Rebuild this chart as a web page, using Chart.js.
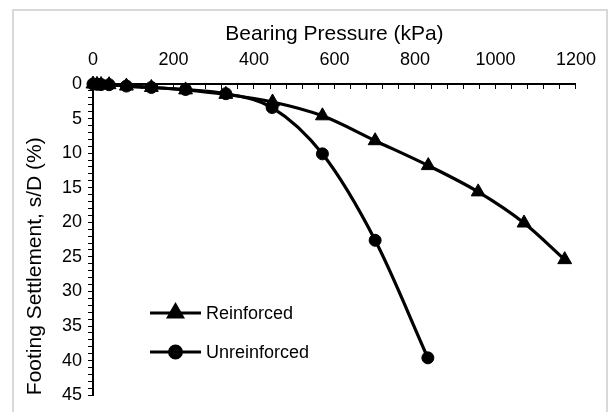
<!DOCTYPE html>
<html>
<head>
<meta charset="utf-8">
<script src="https://cdn.jsdelivr.net/npm/chart.js@4.4.1/dist/chart.umd.min.js"></script>
<style>
  html, body { margin: 0; padding: 0; background: #fff; }
  #wrap { position: relative; width: 614px; height: 412px; overflow: hidden; }
  #frame { position: absolute; left: 12px; top: 9px; width: 596px; height: 420px; border: 2px solid #d9d9d9; box-sizing: border-box; }
  #chart { position: absolute; left: 0; top: 0; }
</style>
</head>
<body>
<div id="wrap">
  <div id="frame"></div>
  <canvas id="chart" width="614" height="412"></canvas>
</div>
<script>
// bearing pressure (kPa) and settlement s/D (%)
const reinforcedX = [0, 10, 20, 40, 83, 145, 230, 330, 446, 570, 701, 833, 957, 1071, 1172];
const reinforcedY = [0, 0.05, 0.08, 0.1, 0.3, 0.5, 0.85, 1.5, 2.6, 4.6, 8.2, 11.8, 15.6, 20.1, 25.4];
const unreinforcedX = [0, 10, 20, 40, 83, 145, 230, 330, 445, 570, 701, 832];
const unreinforcedY = [0, 0.05, 0.08, 0.1, 0.3, 0.5, 0.8, 1.4, 3.4, 10.1, 22.6, 39.6];

const xTickLabels = [0, 200, 400, 600, 800, 1000, 1200];
const yTickLabels = [0, 5, 10, 15, 20, 25, 30, 35, 40, 45];

const FONT = "'Liberation Sans', Arial, sans-serif";
Chart.defaults.font.family = FONT;
Chart.defaults.color = "#000";

function toPoints(xs, ys) {
  return xs.map((x, i) => ({ x, y: ys[i] }));
}

// legend drawn inside the plot, lower left
const insideLegend = {
  id: "insideLegend",
  afterDatasetsDraw(chart) {
    const ctx = chart.ctx;
    const rows = [313, 352];
    chart.data.datasets.forEach((ds, i) => {
      const y = rows[i];
      ctx.save();
      ctx.strokeStyle = "#000";
      ctx.lineWidth = 3;
      ctx.beginPath();
      ctx.moveTo(150, y);
      ctx.lineTo(201, y);
      ctx.stroke();
      ctx.fillStyle = "#000";
      Chart.helpers.drawPoint(ctx, {
        pointStyle: ds.pointStyle,
        radius: ds.pointRadius,
        borderWidth: 1,
        rotation: 0,
      }, 175.5, y);
      ctx.fill();
      ctx.font = "18px " + FONT;
      ctx.textBaseline = "middle";
      ctx.textAlign = "left";
      ctx.fillText(ds.label, 206, y + 1);
      ctx.restore();
    });
  },
};

new Chart(document.getElementById("chart"), {
  type: "line",
  data: {
    datasets: [
      {
        label: "Reinforced",
        data: toPoints(reinforcedX, reinforcedY),
        borderColor: "#000",
        backgroundColor: "#000",
        borderWidth: 3.2,
        pointStyle: "triangle",
        pointRadius: 8,
        pointBorderWidth: 1,
        cubicInterpolationMode: "monotone",
        clip: false,
      },
      {
        label: "Unreinforced",
        data: toPoints(unreinforcedX, unreinforcedY),
        borderColor: "#000",
        backgroundColor: "#000",
        borderWidth: 3.2,
        pointStyle: "circle",
        pointRadius: 6,
        pointBorderWidth: 1,
        cubicInterpolationMode: "monotone",
        clip: false,
      },
    ],
  },
  options: {
    responsive: false,
    animation: false,
    layout: { padding: { left: 0, top: 0, right: 36, bottom: 7 } },
    plugins: { legend: { display: false }, tooltip: { enabled: false } },
    scales: {
      x: {
        type: "linear",
        position: "top",
        min: 0,
        max: 1200,
        afterFit: (s) => { s.height = 84; },
        ticks: {
          stepSize: 40,
          autoSkip: false,
          maxRotation: 0,
          padding: 18,
          font: { size: 18 },
          callback: (v) => (xTickLabels.includes(v) ? String(v) : ""),
        },
        grid: { drawOnChartArea: false, tickLength: -5, color: "#000", lineWidth: 1 },
        border: { color: "#000", width: 2 },
        title: {
          display: true,
          text: "Bearing Pressure (kPa)",
          font: { size: 21 },
          padding: { top: 22, bottom: 0 },
        },
      },
      y: {
        type: "linear",
        reverse: true,
        min: 0,
        max: 45,
        afterFit: (s) => { s.width = 93; },
        ticks: {
          stepSize: 1,
          autoSkip: false,
          padding: 6,
          font: { size: 18 },
          callback: (v) => (yTickLabels.includes(v) ? String(v) : ""),
        },
        grid: { drawOnChartArea: false, tickLength: 5, color: "#000", lineWidth: 1 },
        border: { color: "#000", width: 2 },
      },
      // title-only axis so the title can sit at the bottom end
      yTitle: {
        type: "linear",
        position: "left",
        weight: 1,
        min: 0,
        max: 45,
        afterFit: (s) => { s.width = 0; },
        ticks: { display: false },
        grid: { display: false },
        border: { display: false },
        title: {
          display: true,
          text: "Footing Settlement, s/D (%)",
          align: "start",
          font: { size: 21 },
          padding: { top: 23, bottom: 0 },
        },
      },
    },
  },
  plugins: [insideLegend],
});
</script>
</body>
</html>
